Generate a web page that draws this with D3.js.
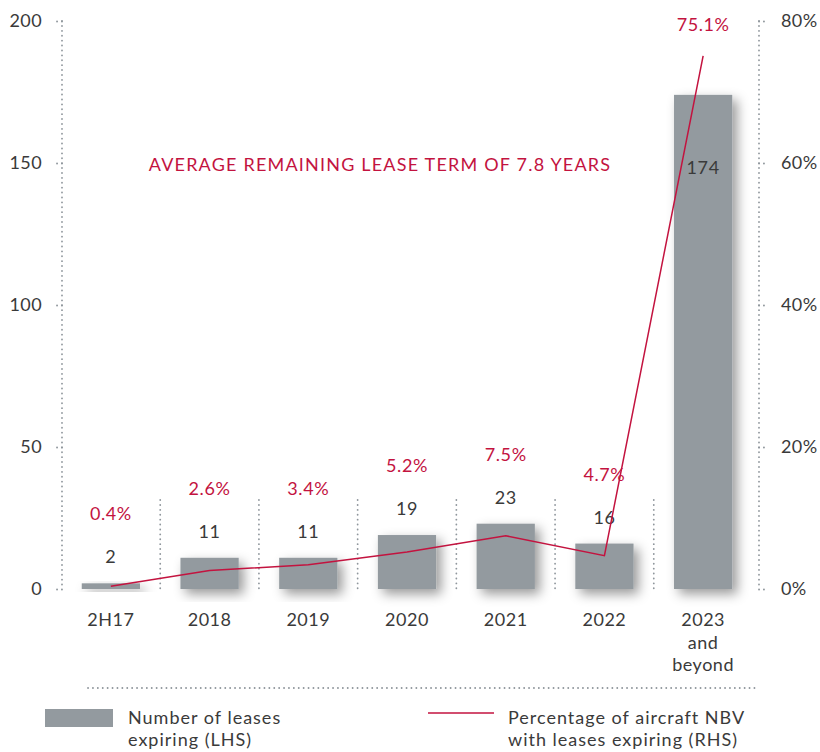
<!DOCTYPE html>
<meta charset="utf-8">
<style>
  body { margin: 0; background: #fff; }
  text { font-family: Lato, "Noto Sans", sans-serif; font-size: 18px; }
</style>
<script src="https://d3js.org/d3.v7.min.js"></script>
<body>
<script>
// data
var categories = ["2H17", "2018", "2019", "2020", "2021", "2022", "2023 and beyond"];
var leases = [2, 11, 11, 19, 23, 16, 174];
var pctNbv = [0.4, 2.6, 3.4, 5.2, 7.5, 4.7, 75.1];
var leftTicks = [0, 50, 100, 150, 200];
var rightTicks = [0, 20, 40, 60, 80];
var note = "AVERAGE REMAINING LEASE TERM OF 7.8 YEARS";
var legendItems = [["Number of leases", "expiring (LHS)"], ["Percentage of aircraft NBV", "with leases expiring (RHS)"]];

var red = "#c3133f", grey = "#939a9f", dark = "#3a3a3a", dotCol = "#8f969c";

var svg = d3.select("body").append("svg")
  .attr("width", 820).attr("height", 752);

var defs = svg.append("defs");
var f = defs.append("filter").attr("id", "shadow")
  .attr("x", "-30%").attr("y", "-30%").attr("width", "170%").attr("height", "170%");
f.append("feDropShadow").attr("dx", 5).attr("dy", 5).attr("stdDeviation", 6)
  .attr("flood-color", "#000").attr("flood-opacity", 0.4);

var x = d3.scaleBand().domain(categories).range([62, 752]).paddingInner(0.41).paddingOuter(0.2);
var y = d3.scaleLinear().domain([0, 200]).range([589, 21]);
var yr = d3.scaleLinear().domain([0, 80]).range([589, 21]);
var cx = function(d) { return x(d) + x.bandwidth() / 2; };

function dotted(sel) {
  return sel.attr("stroke", dotCol).attr("stroke-width", 1.8)
    .attr("stroke-dasharray", "0.1,4.8").attr("stroke-linecap", "round");
}

// left axis
var la = svg.append("g").attr("transform", "translate(62,0)")
  .call(d3.axisLeft(y).tickValues(leftTicks).tickSize(9).tickPadding(11));
la.select(".domain").remove();
la.selectAll(".tick line").call(dotted);
la.selectAll(".tick text").attr("fill", dark).style("font-size", "18px").style("letter-spacing", "0.4px");
svg.append("line").attr("x1", 62).attr("x2", 62).attr("y1", y(200)).attr("y2", y(0)).call(dotted);

// right axis
var ra = svg.append("g").attr("transform", "translate(759,0)")
  .call(d3.axisRight(yr).tickValues(rightTicks).tickSize(9).tickPadding(13)
    .tickFormat(function(d) { return d + "%"; }));
ra.select(".domain").remove();
ra.selectAll(".tick line").call(dotted);
ra.selectAll(".tick text").attr("fill", dark).style("font-size", "18px").style("letter-spacing", "0.4px");
svg.append("line").attr("x1", 759).attr("x2", 759).attr("y1", yr(80)).attr("y2", yr(0)).call(dotted);

// separators between categories
var seps = categories.slice(1);
svg.selectAll(".sep").data(seps).enter().append("line")
  .attr("x1", function(d) { return x(d) - x.step() * x.paddingInner() / 2; })
  .attr("x2", function(d) { return x(d) - x.step() * x.paddingInner() / 2; })
  .attr("y1", 500).attr("y2", y(0))
  .call(dotted);

// bars
svg.selectAll(".bar").data(categories).enter().append("rect")
  .attr("x", function(d) { return x(d); })
  .attr("width", x.bandwidth())
  .attr("y", function(d, i) { return y(leases[i]); })
  .attr("height", function(d, i) { return y(0) - y(leases[i]); })
  .attr("fill", grey)
  .attr("filter", "url(#shadow)");

// count labels
function countY(i) {
  return leases[i] > 100 ? y(leases[i]) + 79 : y(leases[i]) - 20;
}
svg.selectAll(".cnt").data(categories).enter().append("text")
  .attr("x", cx)
  .attr("y", function(d, i) { return countY(i); })
  .attr("text-anchor", "middle")
  .attr("fill", dark).style("letter-spacing", "0.6px")
  .text(function(d, i) { return leases[i]; });

// percentage line
var line = d3.line()
  .x(function(d) { return cx(d); })
  .y(function(d, i) { return yr(pctNbv[i]); });
svg.append("path").datum(categories)
  .attr("d", line)
  .attr("fill", "none").attr("stroke", red).attr("stroke-width", 1.5);

// percentage labels
svg.selectAll(".pct").data(categories).enter().append("text")
  .attr("x", cx)
  .attr("y", function(d, i) { return leases[i] > 100 ? yr(pctNbv[i]) - 25 : countY(i) - 43; })
  .attr("text-anchor", "middle")
  .attr("fill", red).style("letter-spacing", "0.6px")
  .text(function(d, i) { return pctNbv[i].toFixed(1) + "%"; });

// annotation
svg.append("text").attr("x", 380).attr("y", 171).attr("text-anchor", "middle")
  .attr("fill", red).style("letter-spacing", "1.2px")
  .text(note);

// x labels
svg.selectAll(".xl").data(categories).enter().append("text")
  .attr("x", cx).attr("y", 626)
  .attr("text-anchor", "middle")
  .attr("fill", dark).style("letter-spacing", "0.5px")
  .each(function(d) {
    var words = d.split(" ");
    var t = d3.select(this);
    words.forEach(function(w, k) {
      t.append("tspan").attr("x", cx(d)).attr("dy", k === 0 ? 0 : 22.5).text(w);
    });
  });

// bottom rule
svg.append("line").attr("x1", 88).attr("x2", 757).attr("y1", 688).attr("y2", 688).call(dotted);

// legend
var lg = svg.append("g");
lg.append("rect").attr("x", 45).attr("y", 709).attr("width", 68).attr("height", 18).attr("fill", grey);
lg.append("line").attr("x1", 428).attr("x2", 494).attr("y1", 713).attr("y2", 713)
  .attr("stroke", red).attr("stroke-width", 1.5);
[128, 508].forEach(function(lx, k) {
  var t = lg.append("text").attr("x", lx).attr("y", 724)
    .attr("fill", dark).style("letter-spacing", "1px");
  legendItems[k].forEach(function(s, j) {
    t.append("tspan").attr("x", lx).attr("dy", j === 0 ? 0 : 22).text(s);
  });
});
</script>
</body>
